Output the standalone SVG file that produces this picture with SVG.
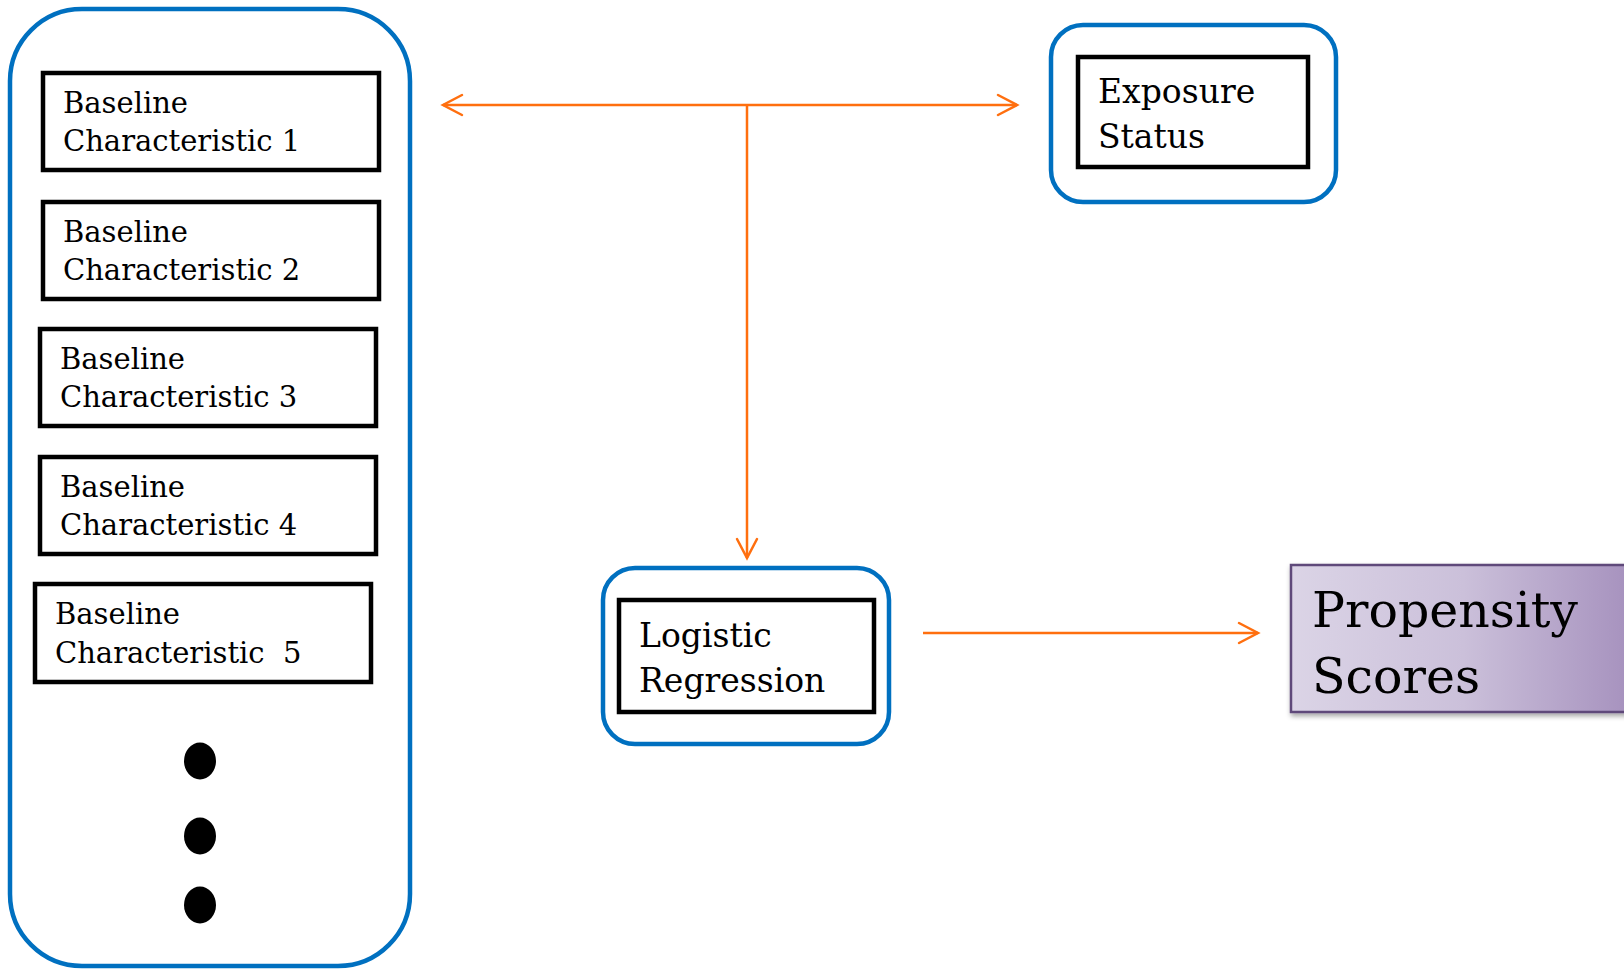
<svg xmlns="http://www.w3.org/2000/svg" width="1624" height="969" viewBox="0 0 1624 969">
<style>
.blue{fill:#ffffff;stroke:#0070c0;stroke-width:4.5}
.box{fill:#ffffff;stroke:#000000;stroke-width:4.5}
.t{font-family:"DejaVu Serif","Liberation Serif",serif;fill:#000000}
.conn{stroke:#ff6f0f;stroke-width:2.5;fill:none}
</style>
<defs>
<marker id="chev" markerUnits="userSpaceOnUse" markerWidth="24" markerHeight="26" viewBox="0 0 24 26" refX="21" refY="13" orient="auto-start-reverse">
<path d="M2,3 L21,13 L2,23" fill="none" stroke="#ff6f0f" stroke-width="2.5" stroke-linecap="round" stroke-linejoin="miter"/>
</marker>
<linearGradient id="pg" x1="0" y1="0" x2="1" y2="0">
<stop offset="0" stop-color="#dbd4e6"/>
<stop offset="0.5" stop-color="#cbc0da"/>
<stop offset="1" stop-color="#a590bd"/>
</linearGradient>
<filter id="sh" x="-10%" y="-10%" width="130%" height="130%">
<feDropShadow dx="1" dy="3" stdDeviation="2.5" flood-color="#000000" flood-opacity="0.35"/>
</filter>
</defs>

<g id="characteristics-container">
<rect class="blue" x="10" y="9" width="400" height="957" rx="72" ry="72"/>
</g>

<g id="baseline1">
<rect class="box" x="43" y="73" width="336" height="97"/>
<text class="t" font-size="29" x="63" y="113">Baseline</text>
<text class="t" font-size="29" x="63" y="151">Characteristic 1</text>
</g>
<g id="baseline2">
<rect class="box" x="43" y="202" width="336" height="97"/>
<text class="t" font-size="29" x="63" y="242">Baseline</text>
<text class="t" font-size="29" x="63" y="280">Characteristic 2</text>
</g>
<g id="baseline3">
<rect class="box" x="40" y="329" width="336" height="97"/>
<text class="t" font-size="29" x="60" y="369">Baseline</text>
<text class="t" font-size="29" x="60" y="407">Characteristic 3</text>
</g>
<g id="baseline4">
<rect class="box" x="40" y="457" width="336" height="97"/>
<text class="t" font-size="29" x="60" y="497">Baseline</text>
<text class="t" font-size="29" x="60" y="535">Characteristic 4</text>
</g>
<g id="baseline5">
<rect class="box" x="35" y="584" width="336" height="98"/>
<text class="t" font-size="29" x="55" y="624">Baseline</text>
<text class="t" font-size="29" x="55" y="663" xml:space="preserve">Characteristic  5</text>
</g>
<g id="ellipsis">
<ellipse cx="200" cy="761" rx="16" ry="18.5" fill="#000000"/>
<ellipse cx="200" cy="836" rx="16" ry="18.5" fill="#000000"/>
<ellipse cx="200" cy="905" rx="16" ry="18.5" fill="#000000"/>
</g>

<g id="exposure-status">
<rect class="blue" x="1051" y="25" width="285" height="177" rx="32" ry="32"/>
<rect class="box" x="1078" y="57" width="230" height="110"/>
<text class="t" font-size="33" x="1098" y="103">Exposure</text>
<text class="t" font-size="33" x="1098" y="148">Status</text>
</g>

<g id="logistic-regression">
<rect class="blue" x="603" y="568" width="286" height="176" rx="32" ry="32"/>
<rect class="box" x="619" y="600" width="255" height="112"/>
<text class="t" font-size="33" x="639" y="647">Logistic</text>
<text class="t" font-size="33" x="639" y="692">Regression</text>
</g>

<g id="propensity-scores">
<rect x="1291" y="565" width="345" height="147" fill="url(#pg)" stroke="#5f497a" stroke-width="2.5" filter="url(#sh)"/>
<text class="t" font-size="49" x="1312" y="627">Propensity</text>
<text class="t" font-size="49" x="1312" y="693">Scores</text>
</g>

<g id="connectors">
<line class="conn" x1="443" y1="105" x2="1017" y2="105" marker-start="url(#chev)" marker-end="url(#chev)"/>
<line class="conn" x1="747" y1="105" x2="747" y2="558" marker-end="url(#chev)"/>
<line class="conn" x1="923" y1="633" x2="1258" y2="633" marker-end="url(#chev)"/>
</g>
</svg>
